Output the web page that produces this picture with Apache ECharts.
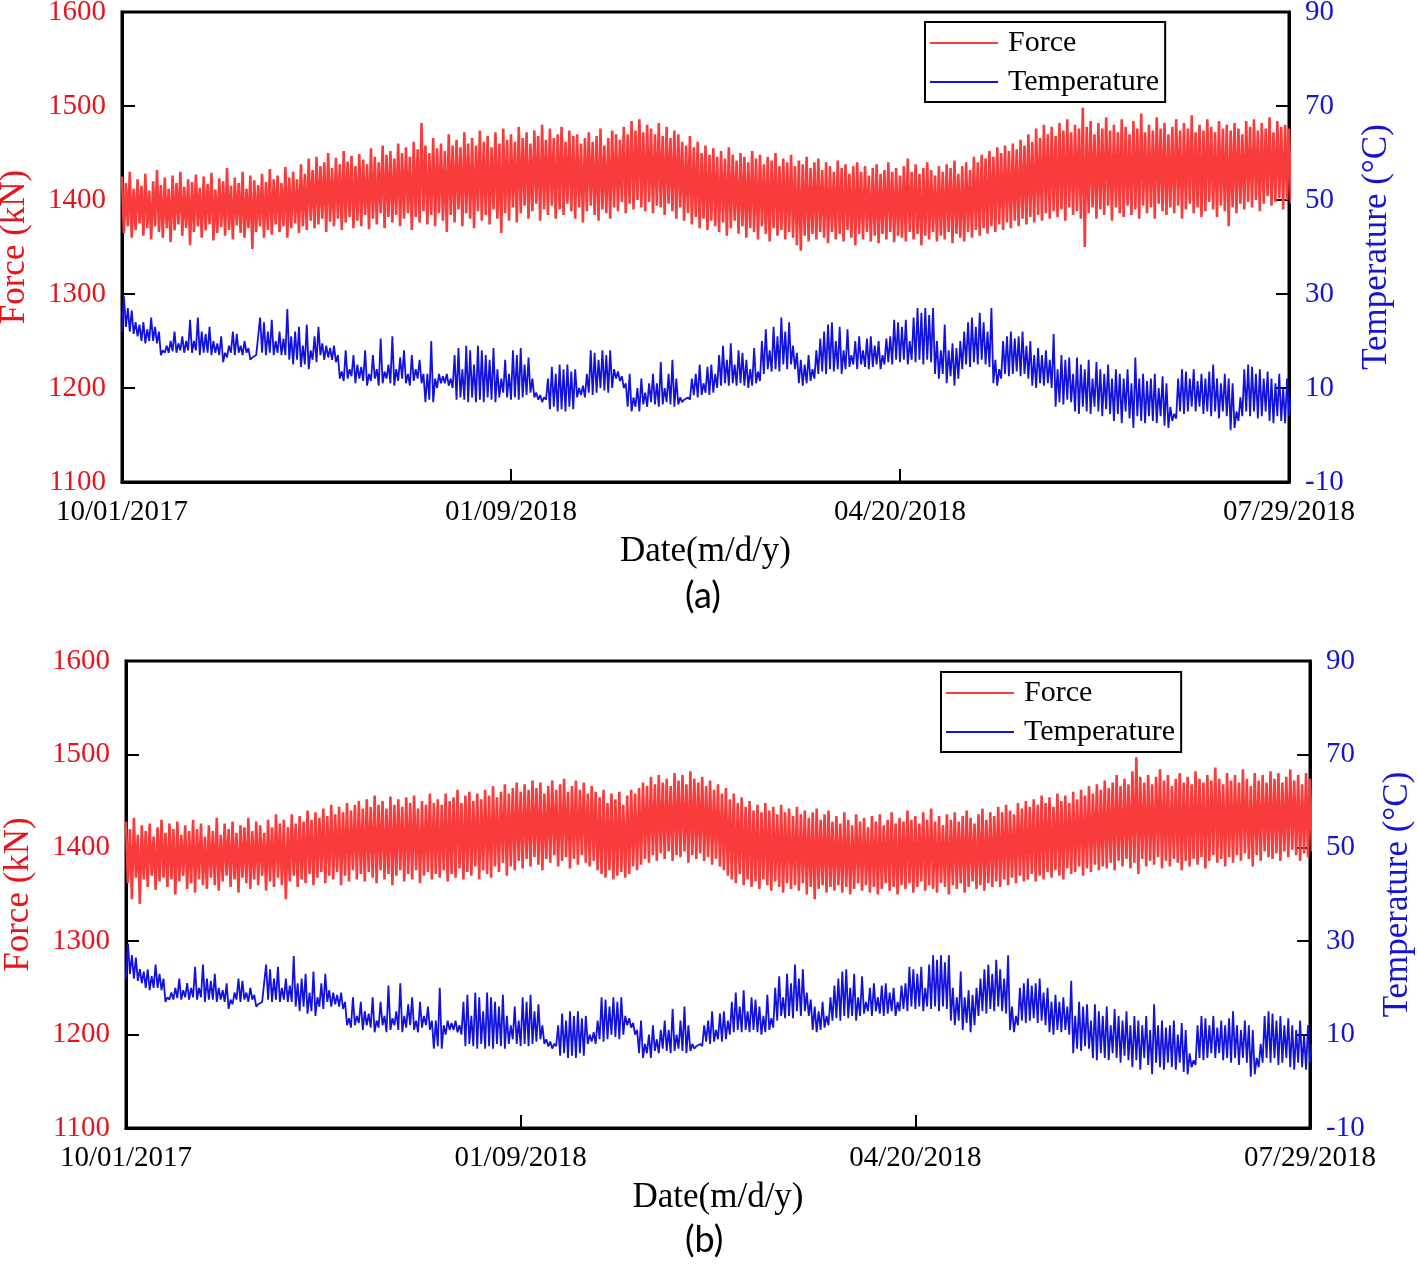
<!DOCTYPE html>
<html><head><meta charset="utf-8">
<script src="https://cdn.jsdelivr.net/npm/echarts@6/dist/echarts.min.js"></script>
<style>html,body{margin:0;padding:0;background:#fff}#c{width:1417px;height:1266px}</style>
</head><body><div id="c"></div>
<script>
const dateLabels = ['10/01/2017','01/09/2018','04/20/2018','07/29/2018'];
const forceTicks = [1100,1200,1300,1400,1500,1600];
const tempTicks = [-10,10,30,50,70,90];

// Temperature (°C), two readings per day (low, high), days 0..300
const temperature = [
22,29.5, 23,27, 22,26.5, 21.5,24, 21,23.5, 20,24, 19.5,22.5, 20,25, 20,23, 19.5,22,
17,18, 17.5,19, 17.5,20, 17.8,22, 17.5,19.5, 18,21, 17.5,20, 18,24.5, 17.5,20, 18,25,
17,22, 17.5,21.5, 17.5,23, 17,20, 17.5,19.5, 17,21, 15.5,17.5, 16.5,19, 17.5,22, 17,21.5,
17.5,19, 17,20, 17.5,18.5, 16,16.5, 16.5,17, 17,25, 17.5,24, 17,22, 17.5,24.5, 17,20,
17.5,22, 17,20.5, 17,26.8, 16,21, 15,22, 16,23, 14.5,19, 15,23.5, 14,18, 16,21,
15.5,23, 17,19.5, 16,19, 16.5,18.5, 16,19, 15.5,17, 12,13.5, 11.5,18, 12,14, 12.5,17,
11,15, 12,14.5, 11.5,18, 10.5,13, 11.5,17, 12,14, 10.5,20.5, 11,13.5, 12,15, 11,21,
10.5,14, 11.5,16.5, 12,18, 11,13, 10.5,17, 11.5,14, 12,16, 11,13, 7,13, 7.5,20,
7,12, 10,13, 11,12.5, 11,13, 10.5,12, 10,17, 7.5,18.5, 8,14, 7.5,19, 7,18,
8,15, 7,19, 7.5,18, 7,17, 8,16, 7.5,18.5, 7,14, 8,12, 9,16, 8,13,
7.5,18, 8,17, 7.5,18.5, 8,15, 8.5,16.5, 9,12, 8,9, 7.5,8.5, 7,8, 7.5,12,
5.5,14.5, 6,13, 5,15, 5.5,14, 5,15, 6,13.5, 5.5,14, 8,10, 8.5,10.5, 8,13,
9,18, 8.5,17.5, 9,16, 10,18, 9.5,17, 9,18, 10,14, 12,13.5, 11.5,12.5, 10,11,
6,13, 5,8, 6,10, 5,12, 6.5,9, 6,11, 7,13, 6.5,11, 6,15.5, 6.5,10,
7,13, 6.5,16, 6,12, 6.5,8, 7,7.5, 7.5,8, 7.5,12, 8.5,13, 8,15, 8.5,11,
9,14.5, 8.5,15, 9,13, 10,17, 10.5,19, 11,16, 10.5,19.5, 11,15, 10.5,18, 11,17.5,
10.5,16, 10,14, 10.5,18.5, 11,13.5, 11.5,20, 13,22.5, 14,18, 13.5,23, 14,21, 13.5,25,
15,22, 14,24, 15,19, 14,17.5, 11,16, 10.5,15, 11,17, 11.5,14, 12,18, 13,20.5,
13.5,22, 13,23.5, 14,24, 13.5,20, 14,23, 13,18, 14,22.5, 14.5,17, 15,20, 14,21,
15,18, 14.5,20.5, 14,21, 14.5,19, 15,20, 14,17, 15,20.5, 15.5,21, 15,24.5, 16,24,
15.5,23, 16,24.5, 15,20, 16,25, 15.5,27, 16,26, 15,27, 16,25.5, 15.5,27, 13,20,
12,18, 13,23.5, 11,18, 12.5,19.5, 10.5,18.5, 12,20, 14,22, 15,24, 14.5,25, 15.5,23,
15,26, 16,24, 15,22, 14.5,27, 11,16, 10.5,14, 12,20, 13,21, 12.5,22, 13,20.5,
13.5,21, 12.5,22, 13,19, 12,20, 10.5,17, 10,18.5, 11,17, 10.5,18, 11,16, 10,21.5,
6,14, 7,17, 6.5,16, 7.5,16.5, 7,13, 5,16.5, 4.5,15, 6,14, 5,16, 4.5,12,
6,15.5, 5,14, 4,13, 5.5,15, 4.5,12, 3,14, 4.5,13, 2.5,12, 5,14, 3.5,11,
1.5,16.5, 4,12, 3,13, 2.5,11.5, 4,12, 3,13, 2.5,10, 4,12.5, 2,11, 1.5,6,
3,4.5, 3.5,12, 5,14, 4.5,13.5, 5,12, 6,14, 5,11.5, 6,13, 4.5,12, 5,13.5,
4,15, 5,12, 3.5,11, 5,13, 4,12, 1,11, 1.5,5, 3,8, 4,14, 5,15,
4,14.5, 5,13, 3.5,14, 4,12, 5,13.5, 3,12, 2.5,11, 4,13, 3,10, 2.5,12, 4,8
];

// Force (kN), panel (a), two readings per day (high, low)
const forceA = [
1425,1365, 1418,1372, 1430,1360, 1412,1368, 1422,1375, 1415,1362, 1428,1370, 1410,1358, 1420,1372, 1432,1366,
1416,1360, 1424,1370, 1412,1355, 1426,1368, 1418,1374, 1430,1362, 1414,1370, 1422,1352, 1419,1366, 1427,1372,
1413,1360, 1425,1368, 1417,1374, 1429,1357, 1411,1365, 1423,1371, 1420,1362, 1434,1368, 1415,1358, 1424,1373,
1418,1365, 1430,1360, 1412,1370, 1426,1348, 1421,1366, 1416,1372, 1428,1360, 1419,1368, 1433,1363, 1422,1374,
1426,1366, 1418,1372, 1435,1360, 1424,1370, 1430,1375, 1422,1365, 1438,1372, 1428,1368, 1444,1378, 1432,1370,
1446,1374, 1436,1380, 1440,1366, 1450,1377, 1434,1372, 1445,1380, 1438,1368, 1452,1376, 1441,1382, 1447,1370,
1436,1378, 1449,1372, 1443,1384, 1438,1369, 1455,1380, 1446,1374, 1440,1386, 1458,1370, 1448,1382, 1452,1376,
1444,1384, 1460,1372, 1450,1380, 1456,1386, 1446,1368, 1462,1382, 1454,1376, 1482,1388, 1458,1374, 1450,1384,
1466,1372, 1455,1386, 1460,1378, 1452,1366, 1470,1384, 1458,1376, 1464,1390, 1456,1372, 1472,1386, 1460,1380,
1466,1370, 1458,1388, 1474,1378, 1462,1384, 1468,1374, 1456,1390, 1472,1380, 1460,1365, 1476,1386, 1464,1378,
1470,1392, 1462,1376, 1478,1386, 1466,1394, 1472,1380, 1460,1388, 1474,1396, 1468,1378, 1480,1390, 1464,1384,
1476,1394, 1466,1380, 1470,1390, 1478,1384, 1462,1396, 1474,1388, 1468,1380, 1470,1392, 1460,1376, 1466,1388,
1472,1394, 1462,1384, 1468,1378, 1476,1390, 1458,1386, 1466,1380, 1474,1392, 1470,1388, 1464,1398, 1478,1386,
1470,1396, 1484,1390, 1474,1400, 1486,1392, 1472,1388, 1480,1398, 1476,1386, 1470,1394, 1482,1392, 1468,1384,
1478,1396, 1466,1388, 1474,1380, 1470,1392, 1462,1378, 1458,1386, 1468,1374, 1456,1382, 1462,1370, 1450,1380,
1458,1368, 1448,1378, 1455,1372, 1446,1366, 1452,1376, 1444,1362, 1456,1370, 1448,1378, 1442,1364, 1450,1372,
1446,1360, 1440,1370, 1452,1366, 1444,1358, 1448,1372, 1438,1364, 1446,1356, 1442,1370, 1450,1362, 1436,1368,
1444,1358, 1440,1366, 1448,1360, 1436,1352, 1442,1346, 1438,1362, 1446,1356, 1434,1364, 1440,1358, 1444,1366,
1432,1360, 1440,1354, 1436,1366, 1430,1358, 1442,1364, 1434,1356, 1438,1368, 1428,1360, 1436,1352, 1440,1364,
1430,1358, 1436,1366, 1426,1356, 1434,1362, 1438,1354, 1428,1364, 1432,1358, 1440,1366, 1430,1355, 1434,1362,
1426,1360, 1436,1356, 1444,1366, 1430,1358, 1438,1364, 1428,1352, 1434,1362, 1440,1358, 1432,1366, 1426,1356,
1436,1362, 1430,1358, 1438,1366, 1434,1354, 1442,1364, 1428,1360, 1436,1356, 1440,1366, 1432,1360, 1446,1368,
1440,1362, 1448,1370, 1444,1364, 1452,1372, 1446,1366, 1456,1374, 1450,1368, 1458,1376, 1452,1370, 1460,1378,
1454,1372, 1464,1380, 1458,1374, 1470,1382, 1462,1376, 1476,1384, 1466,1378, 1480,1386, 1470,1380, 1478,1388,
1468,1382, 1482,1390, 1474,1378, 1486,1392, 1472,1384, 1480,1388, 1476,1380, 1498,1350, 1478,1386, 1484,1392,
1470,1380, 1482,1390, 1476,1384, 1488,1394, 1474,1378, 1480,1392, 1472,1386, 1486,1382, 1478,1394, 1470,1384,
1484,1390, 1476,1380, 1492,1394, 1472,1386, 1480,1392, 1474,1380, 1488,1396, 1476,1388, 1482,1384, 1470,1392,
1478,1386, 1486,1394, 1474,1380, 1482,1390, 1476,1396, 1490,1386, 1472,1392, 1480,1382, 1474,1388, 1486,1398,
1478,1390, 1472,1382, 1484,1394, 1476,1388, 1480,1372, 1474,1392, 1482,1386, 1476,1396, 1470,1390, 1484,1398,
1478,1392, 1486,1400, 1474,1388, 1482,1396, 1476,1404, 1488,1394, 1472,1398, 1484,1402, 1478,1390, 1480,1400, 1476,1396
];

// Force (kN), panel (b), two readings per day (high, low)
const forceB = [
1428,1362, 1420,1345, 1432,1368, 1414,1340, 1424,1366, 1418,1358, 1426,1370, 1412,1355, 1422,1364, 1430,1368,
1416,1358, 1426,1366, 1420,1350, 1428,1364, 1414,1370, 1424,1356, 1418,1362, 1430,1352, 1420,1366, 1426,1360,
1412,1356, 1424,1368, 1418,1360, 1432,1354, 1414,1364, 1426,1370, 1420,1358, 1428,1366, 1416,1352, 1424,1368,
1422,1362, 1432,1356, 1418,1366, 1428,1360, 1424,1370, 1416,1354, 1430,1364, 1422,1358, 1436,1368, 1426,1360,
1430,1345, 1422,1364, 1436,1370, 1426,1358, 1434,1366, 1428,1362, 1440,1372, 1430,1360, 1438,1368, 1432,1374,
1442,1362, 1434,1370, 1446,1366, 1436,1374, 1444,1360, 1438,1370, 1448,1364, 1440,1376, 1446,1366, 1450,1372,
1442,1364, 1452,1374, 1444,1368, 1456,1362, 1446,1376, 1450,1366, 1442,1372, 1455,1360, 1446,1370, 1452,1376,
1444,1364, 1454,1372, 1448,1366, 1456,1376, 1442,1362, 1450,1370, 1446,1374, 1458,1366, 1448,1372, 1452,1368,
1446,1376, 1458,1364, 1450,1372, 1454,1368, 1462,1378, 1448,1366, 1456,1374, 1460,1370, 1450,1380, 1458,1366,
1452,1376, 1462,1372, 1456,1368, 1466,1380, 1454,1374, 1460,1384, 1468,1370, 1458,1380, 1464,1376, 1470,1386,
1460,1378, 1468,1388, 1462,1380, 1472,1390, 1464,1382, 1470,1376, 1458,1388, 1466,1384, 1472,1392, 1462,1380,
1468,1386, 1474,1390, 1460,1378, 1466,1388, 1472,1382, 1462,1392, 1470,1384, 1458,1380, 1466,1386, 1460,1376,
1454,1372, 1462,1368, 1448,1376, 1458,1366, 1452,1370, 1460,1374, 1446,1368, 1456,1372, 1462,1380, 1458,1376,
1464,1382, 1470,1388, 1466,1384, 1476,1392, 1468,1386, 1478,1394, 1470,1388, 1474,1396, 1466,1386, 1480,1392,
1472,1390, 1478,1396, 1468,1384, 1482,1392, 1474,1388, 1470,1394, 1476,1386, 1466,1390, 1472,1382, 1462,1388,
1468,1380, 1458,1376, 1464,1370, 1452,1366, 1458,1362, 1448,1372, 1454,1360, 1444,1366, 1450,1358, 1440,1364,
1446,1356, 1438,1366, 1448,1360, 1440,1354, 1444,1364, 1436,1358, 1446,1352, 1438,1362, 1442,1356, 1434,1360,
1444,1354, 1436,1362, 1440,1350, 1432,1358, 1438,1345, 1442,1356, 1430,1360, 1436,1352, 1440,1358, 1428,1354,
1434,1360, 1426,1352, 1438,1358, 1430,1350, 1424,1356, 1436,1362, 1428,1354, 1432,1360, 1422,1352, 1434,1358,
1428,1350, 1436,1356, 1424,1362, 1430,1354, 1438,1358, 1426,1350, 1432,1360, 1428,1356, 1440,1362, 1430,1352,
1434,1358, 1426,1364, 1438,1354, 1430,1360, 1442,1356, 1428,1352, 1434,1362, 1424,1358, 1436,1350, 1430,1360,
1438,1356, 1428,1362, 1434,1352, 1440,1358, 1432,1364, 1426,1356, 1436,1360, 1442,1354, 1430,1362, 1438,1358,
1434,1364, 1444,1358, 1438,1366, 1446,1360, 1440,1368, 1436,1362, 1448,1370, 1442,1364, 1450,1366, 1444,1372,
1452,1364, 1446,1370, 1456,1366, 1448,1374, 1454,1368, 1444,1376, 1458,1370, 1450,1366, 1456,1378, 1448,1372,
1460,1374, 1452,1380, 1462,1370, 1456,1378, 1466,1374, 1458,1382, 1468,1376, 1462,1380, 1472,1378, 1464,1384,
1470,1376, 1478,1386, 1466,1380, 1474,1388, 1468,1378, 1482,1384, 1497,1372, 1476,1388, 1470,1380, 1478,1386,
1468,1382, 1476,1390, 1484,1378, 1472,1386, 1478,1380, 1466,1388, 1474,1384, 1480,1376, 1470,1386, 1476,1380,
1468,1388, 1482,1382, 1474,1390, 1470,1378, 1478,1386, 1472,1392, 1486,1384, 1474,1388, 1468,1380, 1480,1390,
1472,1384, 1478,1392, 1470,1386, 1484,1394, 1474,1388, 1466,1380, 1480,1392, 1472,1386, 1478,1396, 1470,1390,
1482,1388, 1474,1394, 1480,1386, 1470,1396, 1476,1390, 1484,1398, 1472,1392, 1478,1386, 1468,1394, 1480,1390, 1474,1396
];

const RED = '#f83c3c', BLUE = '#1212dc', RED_T = '#e8141b', BLUE_T = '#1414d2';
const SERIF = '"Liberation Serif","Times New Roman",serif';
const toXY = arr => arr.map((v, i) => [i / 2, v]);

function xAx(gi) {
  return {
    type: 'value', gridIndex: gi, min: 0, max: 300, interval: 100,
    name: 'Date(m/d/y)', nameLocation: 'middle', nameGap: 52,
    nameTextStyle: { fontFamily: SERIF, fontSize: 35, color: '#000' },
    axisLine: { onZero: false, lineStyle: { color: '#000', width: 3 } },
    axisTick: { inside: true, length: 13, lineStyle: { color: '#000', width: 2 } },
    axisLabel: { fontFamily: SERIF, fontSize: 29, color: '#000', margin: 16,
      formatter: v => dateLabels[Math.round(v / 100)] },
    splitLine: { show: false }
  };
}
function yLeft(gi, gap) {
  return {
    type: 'value', gridIndex: gi, position: 'left', min: forceTicks[0], max: forceTicks[forceTicks.length-1], interval: 100,
    name: 'Force (kN)', nameLocation: 'middle', nameGap: gap, nameRotate: 90,
    nameTextStyle: { fontFamily: SERIF, fontSize: 35, color: RED_T },
    axisLine: { show: true, onZero: false, lineStyle: { color: '#000', width: 3 } },
    axisTick: { inside: true, length: 13, lineStyle: { color: '#000', width: 2 } },
    axisLabel: { fontFamily: SERIF, fontSize: 29, color: RED_T, margin: 16, formatter: v => String(v) },
    splitLine: { show: false }
  };
}
function yRight(gi, gap) {
  return {
    type: 'value', gridIndex: gi, position: 'right', min: tempTicks[0], max: tempTicks[tempTicks.length-1], interval: 20,
    name: 'Temperature (°C)', nameLocation: 'middle', nameGap: gap, nameRotate: 90,
    nameTextStyle: { fontFamily: SERIF, fontSize: 35, color: BLUE_T },
    axisLine: { show: true, onZero: false, lineStyle: { color: '#000', width: 3 } },
    axisTick: { inside: true, length: 13, lineStyle: { color: '#000', width: 2 } },
    axisLabel: { fontFamily: SERIF, fontSize: 29, color: BLUE_T, margin: 16, formatter: v => String(v) },
    splitLine: { show: false }
  };
}
function legend(left, top) {
  return {
    left: left, top: top, orient: 'vertical',
    data: [{ name: 'Force', icon: 'rect' }, { name: 'Temperature', icon: 'rect' }],
    itemWidth: 68, itemHeight: 2, itemGap: 9,
    borderColor: '#000', borderWidth: 2, borderRadius: 0, padding: [6, 6, 5, 5],
    selectedMode: false,
    textStyle: { fontFamily: SERIF, fontSize: 30, color: '#000', lineHeight: 30, padding: [0, 0, 0, 5] }
  };
}
function line(name, xi, yi, data, color, w) {
  return { name: name, type: 'line', xAxisIndex: xi, yAxisIndex: yi, data: data,
    showSymbol: false, symbol: 'none', sampling: null, animation: false,
    lineStyle: { color: color, width: w }, itemStyle: { color: color } };
}

const chart = echarts.init(document.getElementById('c'), null, { renderer: 'canvas' });
chart.setOption({
  backgroundColor: '#fff',
  animation: false,
  grid: [
    { left: 122, top: 12, width: 1167, height: 470, containLabel: false, outerBoundsMode: 'none', show: true, borderColor: '#000', borderWidth: 3, backgroundColor: 'transparent' },
    { left: 126, top: 661, width: 1184, height: 467, containLabel: false, outerBoundsMode: 'none', show: true, borderColor: '#000', borderWidth: 3, backgroundColor: 'transparent' }
  ],
  xAxis: [xAx(0), xAx(1)],
  yAxis: [yLeft(0, 90), yRight(0, 70), yLeft(1, 90), yRight(1, 70)],
  legend: [legend(925, 22), legend(941, 672)],
  series: [
    line('Force', 0, 0, toXY(forceA), RED, 2.6),
    line('Temperature', 0, 1, toXY(temperature), BLUE, 1.8),
    line('Force', 1, 2, toXY(forceB), RED, 2.6),
    line('Temperature', 1, 3, toXY(temperature), BLUE, 1.8)
  ],
  graphic: [
    { type: 'text', left: 685, top: 578, style: { text: '(a)', fontFamily: 'Lato, "Open Sans", sans-serif', fontSize: 36, fill: '#000' } },
    { type: 'text', left: 685, top: 1222, style: { text: '(b)', fontFamily: 'Lato, "Open Sans", sans-serif', fontSize: 36, fill: '#000' } }
  ]
});
</script></body></html>
